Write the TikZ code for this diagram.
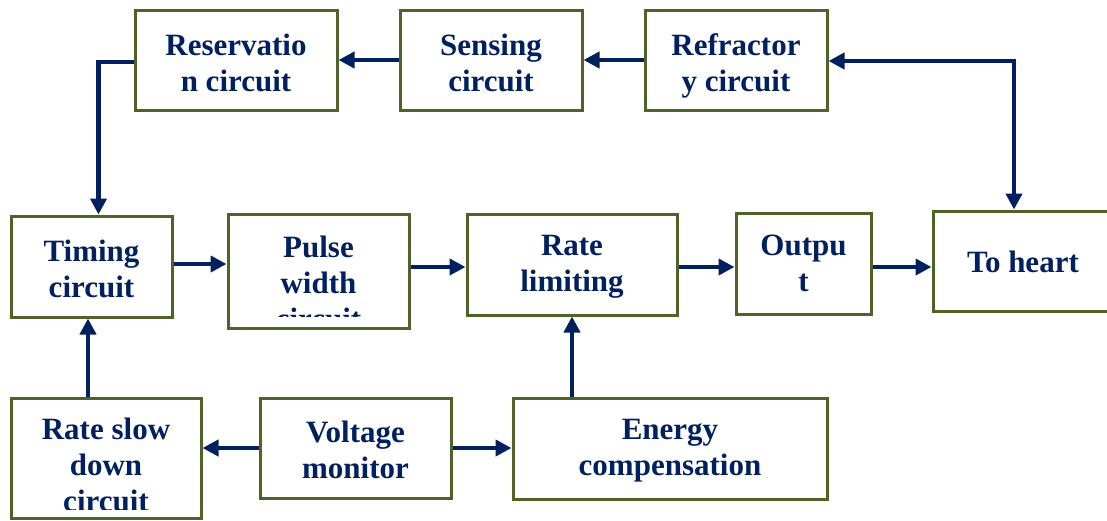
\documentclass[tikz,border=0pt]{standalone}
\usepackage{fontspec}
\setmainfont{Liberation Serif}
\usetikzlibrary{arrows.meta}
\definecolor{boxgreen}{RGB}{79,98,40}
\definecolor{navy}{RGB}{0,32,96}
\tikzset{
  box/.style={draw=boxgreen, line width=3pt, rectangle, inner sep=0pt, fill=white},
  txt/.style={text=navy, font=\bfseries\fontsize{31}{36}\selectfont, align=center, inner sep=0pt, anchor=base},
  arr/.style={draw=navy, line width=4.2pt, -{Triangle[length=16pt,width=16pt]}},
  darr/.style={draw=navy, line width=4.2pt, {Triangle[length=16pt,width=16pt]}-{Triangle[length=16pt,width=16pt]}}
}
\begin{document}
\begin{tikzpicture}[x=1pt,y=-1pt]
\clip (0,0) rectangle (1107,520);
\fill[white] (0,0) rectangle (1107,520);
% boxes
\node[box, minimum width=202pt, minimum height=100pt] (res) at (236,60) {};
\node[box, minimum width=182pt, minimum height=100pt] (sen) at (491,60) {};
\node[box, minimum width=182pt, minimum height=100pt] (ref) at (736,60) {};
\node[box, minimum width=161pt, minimum height=101pt] (tim) at (91.5,266.5) {};
\node[box, minimum width=181pt, minimum height=114pt] (pw) at (318.5,271) {};
\node[box, minimum width=210pt, minimum height=101pt] (rl) at (572,264.5) {};
\node[box, minimum width=135pt, minimum height=101pt] (out) at (803.5,263.5) {};
\node[box, minimum width=180pt, minimum height=100pt] (heart) at (1023,261) {};
\node[box, minimum width=190pt, minimum height=120pt] (rsd) at (106,458) {};
\node[box, minimum width=191pt, minimum height=100pt] (vm) at (355.5,448) {};
\node[box, minimum width=314pt, minimum height=101pt] (ec) at (670,448.5) {};
% texts (anchored at the baseline of the last line)
\node[txt] (resT) at (236,91) {Reservatio\\n circuit};
\node[txt] (senT) at (491,91) {Sensing\\circuit};
\node[txt] (refT) at (736,91) {Refractor\\y circuit};
\node[txt] (timT) at (91.5,297) {Timing\\circuit};
\begin{scope}
\clip (229,215) rectangle (408,316);
\node[txt] (pwT) at (318.5,329) {Pulse\\width\\circuit};
\end{scope}
\node[txt] (rlT) at (572,291) {Rate\\limiting};
\node[txt] (outT) at (803.5,291) {Outpu\\t};
\node[txt] (heartT) at (1023,272) {To heart};
\begin{scope}
\clip (12,399) rectangle (200,509);
\node[txt] (rsdT) at (106,511) {Rate slow\\down\\circuit};
\end{scope}
\node[txt] (vmT) at (355.5,478) {Voltage\\monitor};
\node[txt] (ecT) at (670,475) {Energy\\compensation};
% connectors
\draw[arr] (sen.west) -- (res.east);
\draw[arr] (ref.west) -- (sen.east);
\draw[arr] ([yshift=-2pt]res.west) -| ([xshift=7pt]tim.north);
\draw[darr] ([yshift=-1pt]ref.east) -| ([xshift=-9pt]heart.north);
\draw[arr] ([yshift=2.5pt]tim.east) -- ([yshift=2.5pt]tim.east -| pw.west);
\draw[arr] ([yshift=-2.5pt]rl.west -| pw.east) -- ([yshift=-2.5pt]rl.west);
\draw[arr] ([yshift=-2.5pt]rl.east) -- ([yshift=-2.5pt]rl.east -| out.west);
\draw[arr] ([yshift=-6pt]heart.west -| out.east) -- ([yshift=-6pt]heart.west);
\draw[arr] ([xshift=-18pt]rsd.north) -- ([xshift=-18pt]rsd.north |- tim.south);
\draw[arr] (vm.west) -- (rsd.east |- vm.west);
\draw[arr] (vm.east) -- (ec.west |- vm.east);
\draw[arr] ([xshift=-98pt]ec.north) -- ([xshift=-98pt]ec.north |- rl.south);
\end{tikzpicture}
\end{document}
